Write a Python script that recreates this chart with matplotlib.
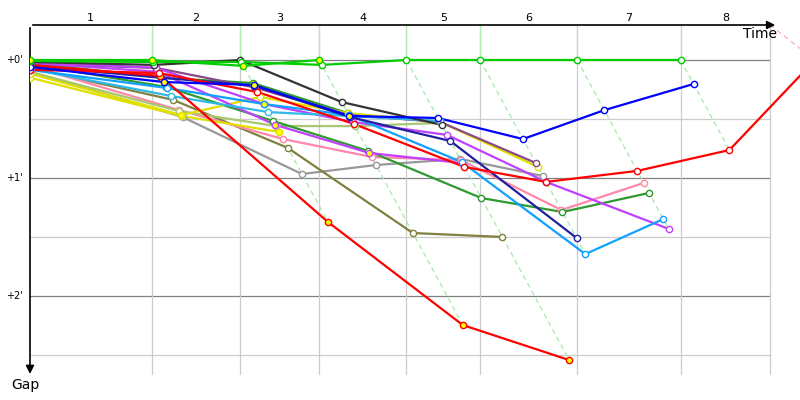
import matplotlib.pyplot as plt

# leader lap times (s) - gridlines, labelled by lap number
lap_end = [0, 114, 197, 271, 353, 422, 513, 610, 694]
lap_labels = ['1', '2', '3', '4', '5', '6', '7', '8']
gap_ticks = [0, 60, 120]
gap_tick_labels = ["+0'", "+1'", "+2'"]

# gap to leader (s) at the start and at the end of each lap
green_a = [0, 0, 3, 0]
green_b = [0.5, 1, 1, 2.5, 0, 0, 0, 0]
black = [1, 2.5, 0, 21.4, 33]
blue = [3.5, 11.2, 12.7, 28.5, 29.5, 40.2, 25.5, 12.2]
red = [5, 6.6, 16.3, 32.5, 54.4, 62, 56.4, 45.8]
red_steep = [2.5, 8.1, 82.4, 134.8, 152.6]
purple_a = [1.5, 6, 33, 47.3, 52.4]
purple_b = [1, 4, 22.4, 31.5, 38.1, 62, 85.9]
plum = [2, 4, 14, 28, 31.5, 52.4]
yellow_a = [7, 28, 18.8, 27, 31.5, 54.4]
yellow_b = [9, 28.5, 36.6]
grey = [6, 29, 58, 53.4, 50.3, 59]
navy = [3, 9, 13, 29, 41.2, 90.5]
sky = [5, 14.2, 22.4, 28, 51.9, 98.7, 80.9]
cyan = [4.5, 18.3, 26.5, 28.5, 31]
pink = [3, 25.4, 40.2, 49.3, 50.9, 76.3, 62.5]
dkgreen_a = [1.5, 9, 11.7, 27]
dkgreen_b = [2, 13.7, 31, 46.3, 70.2, 77.3, 67.6]
olive = [4, 20.3, 44.7, 88, 90]
sage = [6, 26, 33.6, 33.6, 32]

# red takes the lead on lap 8 (time s, gap s)
red_lead = (736, 0)

# (gaps, colour, laps with yellow marker)
cars = [
    (grey, '#999999', []),
    (olive, '#808040', []),
    (pink, '#ff88aa', []),
    (sage, '#a8c870', []),
    (dkgreen_b, '#2e9a2e', []),
    (dkgreen_a, '#2e9a2e', [2]),
    (yellow_b, '#e0e000', [1, 2]),
    (yellow_a, '#e0e000', [1]),
    (plum, '#8a4a8a', []),
    (purple_a, '#c040ff', [1, 2, 3]),
    (purple_b, '#c040ff', []),
    (cyan, '#30b8e8', []),
    (sky, '#10a0ff', [2]),
    (navy, '#2020a0', []),
    (black, '#333333', []),
    (red_steep, '#ff0000', [0, 1, 2, 3, 4]),
    (red, '#ff0000', []),
    (blue, '#0000ff', [1, 2, 3]),
    (green_b, '#00cc00', []),
    (green_a, '#00cc00', [0, 1, 2, 3]),
]


def crossing_time(lap, gap):
    if lap == 0:
        return 0
    return lap_end[lap] + gap


fig = plt.figure(figsize=(8, 4), dpi=100)
ax = fig.add_axes([30 / 800, 25 / 400, 770 / 800, 350 / 400])
x_max = 722
y_top, y_bot = -17.8, 160.2
ax.set_xlim(0, x_max)
ax.set_ylim(y_bot, y_top)
ax.axis('off')

# grid
for g in [0, 60, 120]:
    ax.plot([0, lap_end[-1]], [g, g], color='#808080', lw=0.9, zorder=1)
for g in [30, 90, 150]:
    ax.plot([0, lap_end[-1]], [g, g], color='#cccccc', lw=0.9, zorder=1)
for t in lap_end[1:]:
    ax.plot([t, t], [y_top, y_bot], color='#cccccc', lw=0.9, zorder=1)

# lap lines: leader at top, then every car crossing that lap
for lap in range(1, 8):
    pts = sorted((crossing_time(lap, c[0][lap]), c[0][lap]) for c in cars if len(c[0]) > lap)
    ax.plot([lap_end[lap], lap_end[lap]], [y_top, 0], color='#b0ecb0', lw=0.9, zorder=2)
    ax.plot([p[0] for p in pts], [p[1] for p in pts], color='#a8e8a8', lw=0.9,
            ls=(0, (4, 3)), zorder=2)
ax.plot([lap_end[8], red_lead[0]], [y_top, red_lead[1]], color='#ffb0b0', lw=0.9,
        ls=(0, (4, 3)), zorder=2)

# cars
for gaps, color, yellow in cars:
    xs = [crossing_time(i, g) for i, g in enumerate(gaps)]
    ys = list(gaps)
    if gaps is red:
        xs.append(red_lead[0])
        ys.append(red_lead[1])
    ax.plot(xs, ys, color=color, lw=1.6, zorder=3, solid_joinstyle='round')
    for i, (x, y) in enumerate(zip(xs, ys)):
        if gaps is red and i == len(gaps):
            continue
        face = '#ffff00' if i in yellow else 'white'
        ax.plot(x, y, 'o', ms=4.5, mfc=face, mec=color, mew=1.0, zorder=4)

# axes with arrows
ax.annotate('', xy=(748 / 770, 1), xytext=(0, 1), xycoords='axes fraction',
            arrowprops=dict(arrowstyle='-|>', color='black', lw=1.2, mutation_scale=12))
ax.annotate('', xy=(0, -0.005), xytext=(0, 1), xycoords='axes fraction',
            arrowprops=dict(arrowstyle='-|>', color='black', lw=1.2, mutation_scale=12))

for k, lab in enumerate(lap_labels):
    mid = (lap_end[k] + lap_end[k + 1]) / 2
    ax.text(mid, 1.02, lab, transform=ax.get_xaxis_transform(), ha='center',
            va='center', fontsize=8)
for g, lab in zip(gap_ticks, gap_tick_labels):
    ax.text(-0.01, g, lab, transform=ax.get_yaxis_transform(), ha='right',
            va='center', fontsize=7)

fig.text(777 / 800, 1 - 34 / 400, 'Time', ha='right', va='center', fontsize=10)
fig.text(25 / 800, 1 - 385 / 400, 'Gap', ha='center', va='center', fontsize=10)

fig.savefig('out.png', dpi=100)
